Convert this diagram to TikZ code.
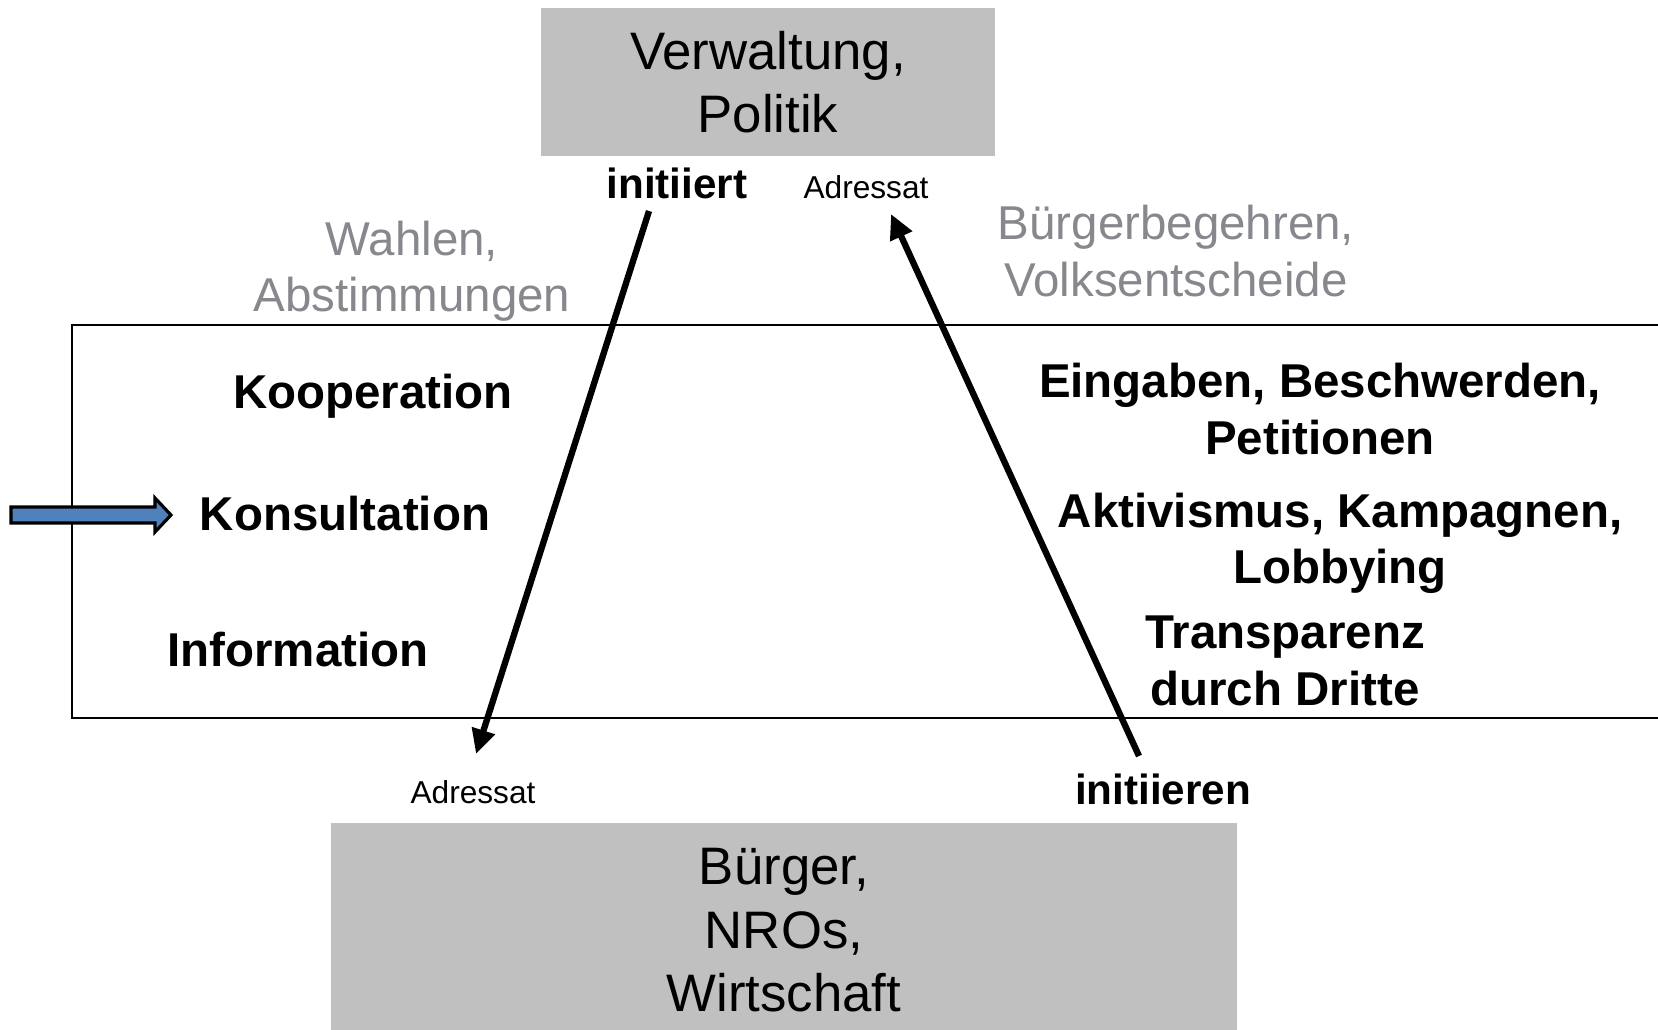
\documentclass[tikz,border=0pt]{standalone}
\usepackage{fontspec}
\setmainfont{Liberation Sans}
\usetikzlibrary{arrows.meta}

\definecolor{boxgray}{RGB}{192,192,192}
\definecolor{textgray}{RGB}{134,136,142}
\definecolor{arrowblue}{RGB}{79,129,189}

\begin{document}
\begin{tikzpicture}[x=0.01cm,y=-0.01cm,
    actor/.style={fill=boxgray,inner sep=0pt,align=center,
      font=\fontsize{15pt}{18pt}\selectfont},
    level/.style={align=center,font=\bfseries\fontsize{13.5pt}{16pt}\selectfont},
    channel/.style={align=center,text=textgray,font=\fontsize{13.5pt}{16pt}\selectfont},
    role/.style={font=\bfseries\fontsize{12pt}{14pt}\selectfont},
    target/.style={font=\fontsize{9pt}{11pt}\selectfont},
    flow/.style={-{Triangle[length=7pt,width=6.5pt]},line width=1.8pt}]
        \useasboundingbox (0,0) rectangle (1658,1029);
        % boxes
        \node[actor,minimum width=4.54cm,minimum height=1.48cm] (vp) at (768,82)
          {Verwaltung,\\Politik};
        \node[actor,minimum width=9.06cm,minimum height=2.14cm,text depth=0pt] (bn) at (784,930)
          {B\"urger,\\NROs,\\Wirtschaft};
        % participation frame
        \draw[line width=0.8pt] (1658,325) -- (72,325) -- (72,718) -- (1658,718);
        \draw[fill=arrowblue,line width=0.9pt] (11,507) -- (155,507) -- (155,498) -- (171,515)
          -- (155,532) -- (155,523) -- (11,523) -- cycle;
        % levels
        \node[level] (koop) at (373,396) {Kooperation};
        \node[level] (kons) at (345,514) {Konsultation};
        \node[level] (info) at (298,650) {Information};
        % bottom-up channels
        \node[level] (eing) at (1320,409) {Eingaben, Beschwerden,\\Petitionen};
        \node[level] (akti) at (1340,543) {Aktivismus, Kampagnen,\\Lobbying};
        \node[level] (tran) at (1285,661) {Transparenz\\durch Dritte};
        % elections
        \node[channel] (wahl) at (412,271) {Wahlen,\\Abstimmungen};
        \node[channel] (begehr) at (1176,251) {B\"urgerbegehren,\\Volksentscheide};
        % roles
        \node[role] (init1) at (677,183) {initiiert};
        \node[target] (adr1) at (866,187) {Adressat};
        \node[target] (adr2) at (473,792) {Adressat};
        \node[role] (init2) at (1163,789) {initiieren};
        % arrows
        \coordinate (a1) at (649,211);
        \coordinate (b1) at (476,754);
        \coordinate (a2) at (1139,756);
        \coordinate (b2) at (891,214);
        \draw[flow] (a1) -- (b1);
        \draw[flow] (a2) -- (b2);
      \end{tikzpicture}
\end{document}
